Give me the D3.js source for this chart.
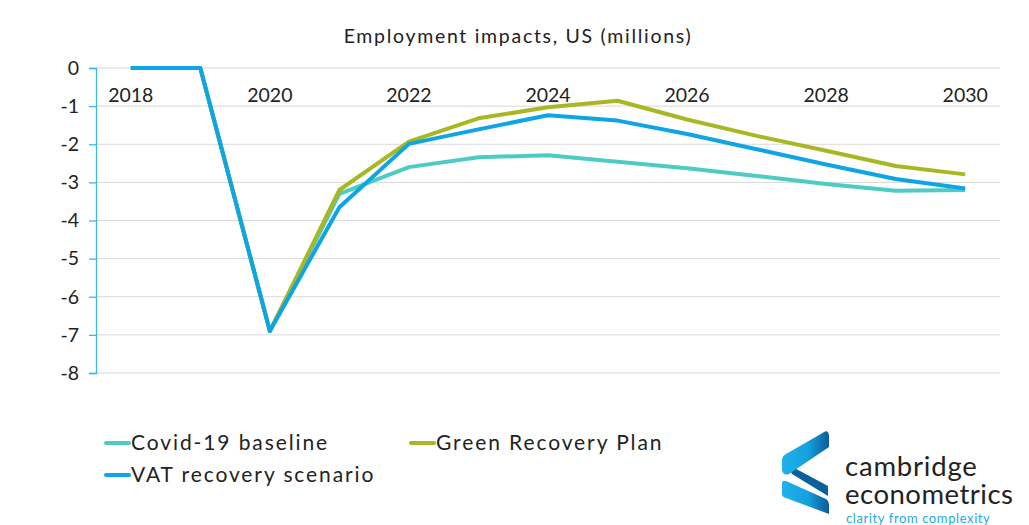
<!DOCTYPE html>
<html>
<head>
<meta charset="utf-8">
<script src="https://cdn.jsdelivr.net/npm/d3@7"></script>
<style>
  body { margin: 0; background: #fff; }
  svg { display: block; }
</style>
</head>
<body>
<script>
// Chart data
const years = [2018, 2019, 2020, 2021, 2022, 2023, 2024, 2025, 2026, 2027, 2028, 2029, 2030];
const covidBaseline = [0, 0, -6.9, -3.3, -2.6, -2.34, -2.29, -2.46, -2.63, -2.83, -3.04, -3.22, -3.2];
const greenRecovery = [0, 0, -6.9, -3.2, -1.93, -1.32, -1.03, -0.86, -1.35, -1.78, -2.17, -2.57, -2.79];
const vatRecovery = [0, 0, -6.9, -3.65, -1.99, -1.61, -1.24, -1.38, -1.73, -2.13, -2.53, -2.91, -3.16];
const seriesNames = ["Covid-19 baseline", "Green Recovery Plan", "VAT recovery scenario"];
const seriesColors = ["#4ecbc3", "#a8b824", "#0ea5e6"];
const yTicks = [0, -1, -2, -3, -4, -5, -6, -7, -8];
const xLabels = [2018, 2020, 2022, 2024, 2026, 2028, 2030];

const width = 1029, height = 525;
const margin = { left: 96, right: 29, top: 68, bottom: 152 };
const font = "Lato, 'Open Sans', sans-serif";

const svg = d3.select("body").append("svg")
  .attr("width", width)
  .attr("height", height)
  .attr("font-family", font);

const x = d3.scaleBand()
  .domain(years)
  .range([margin.left, width - margin.right]);

const y = d3.scaleLinear()
  .domain([-8, 0])
  .range([height - margin.bottom, margin.top]);

// Title
svg.append("text")
  .attr("x", 518)
  .attr("y", 43)
  .attr("text-anchor", "middle")
  .attr("font-size", 19.5)
  .attr("letter-spacing", 1.7)
  .attr("fill", "#222")
  .text("Employment impacts, US (millions)");

// Gridlines
svg.append("g")
  .selectAll("line")
  .data(yTicks)
  .join("line")
  .attr("x1", margin.left)
  .attr("x2", width - margin.right)
  .attr("y1", d => y(d))
  .attr("y2", d => y(d))
  .attr("stroke", "#d9d9d9")
  .attr("stroke-width", 1);

// Y axis
svg.append("g")
  .attr("transform", `translate(${margin.left},0)`)
  .call(d3.axisLeft(y).tickValues(yTicks).tickSize(7).tickPadding(10).tickFormat(d => String(d)))
  .call(g => g.select(".domain").attr("stroke", "#3fb6ea").attr("stroke-width", 1.3))
  .call(g => g.selectAll(".tick line").attr("stroke", "#3fb6ea").attr("stroke-width", 1.3))
  .call(g => g.selectAll(".tick text")
    .attr("font-size", 19.5)
    .attr("font-family", font)
    .attr("fill", "#222"));

// X labels, sitting just under the zero line
svg.append("g")
  .selectAll("text")
  .data(xLabels)
  .join("text")
  .attr("x", d => x(d) + x.bandwidth() / 2)
  .attr("y", y(0) + 34)
  .attr("text-anchor", "middle")
  .attr("font-size", 19.5)
  .attr("fill", "#222")
  .text(d => d);

// Lines
const line = d3.line()
  .x((d, i) => x(years[i]) + x.bandwidth() / 2)
  .y(d => y(d));

svg.append("g")
  .selectAll("path")
  .data([covidBaseline, greenRecovery, vatRecovery])
  .join("path")
  .attr("fill", "none")
  .attr("stroke", (d, i) => seriesColors[i])
  .attr("stroke-width", 4)
  .attr("stroke-linejoin", "round")
  .attr("d", line);

// Legend
const legendPos = [[105, 443], [410, 443], [105, 475]];
const legend = svg.append("g")
  .selectAll("g")
  .data(seriesNames)
  .join("g")
  .attr("transform", (d, i) => `translate(${legendPos[i][0]},${legendPos[i][1]})`);

legend.append("line")
  .attr("x1", 1).attr("x2", 24)
  .attr("stroke", (d, i) => seriesColors[i])
  .attr("stroke-width", 4)
  .attr("stroke-linecap", "round");

legend.append("text")
  .attr("x", 26)
  .attr("dy", "0.35em")
  .attr("font-size", 21)
  .attr("letter-spacing", 1.9)
  .attr("fill", "#222")
  .text(d => d);

// Logo
const defs = svg.append("defs");
const grad = defs.append("linearGradient")
  .attr("id", "ce-grad")
  .attr("x1", "0").attr("y1", "0").attr("x2", "1").attr("y2", "0");
grad.append("stop").attr("offset", "0%").attr("stop-color", "#1fb3ee");
grad.append("stop").attr("offset", "55%").attr("stop-color", "#16a0de");
grad.append("stop").attr("offset", "100%").attr("stop-color", "#0a5c99");

const logo = svg.append("g");
logo.append("path")
  .attr("d", "M787,464 L828,486 L828,496 L792,474 Z")
  .attr("fill", "#0b5f9c");
logo.append("path")
  .attr("d", "M826,431 Q829,432 829,436 L829,447 L789,474 Q783,476 782,470 L782,460 Q782,456 786,454 Z")
  .attr("fill", "url(#ce-grad)");
logo.append("path")
  .attr("d", "M782,483 Q782,480 786,481 L826,499 Q829,501 829,504 L829,514 L786,498 Q782,497 782,494 Z")
  .attr("fill", "url(#ce-grad)");

logo.append("text")
  .attr("x", 845).attr("y", 476)
  .attr("font-size", 27.5)
  .attr("letter-spacing", 0.8)
  .attr("fill", "#222")
  .text("cambridge");
logo.append("text")
  .attr("x", 845).attr("y", 504)
  .attr("font-size", 27.5)
  .attr("letter-spacing", 0.5)
  .attr("fill", "#222")
  .text("econometrics");
logo.append("text")
  .attr("x", 846).attr("y", 523)
  .attr("font-size", 13)
  .attr("letter-spacing", 0.6)
  .attr("fill", "#1ea9e6")
  .text("clarity from complexity");
</script>
</body>
</html>
